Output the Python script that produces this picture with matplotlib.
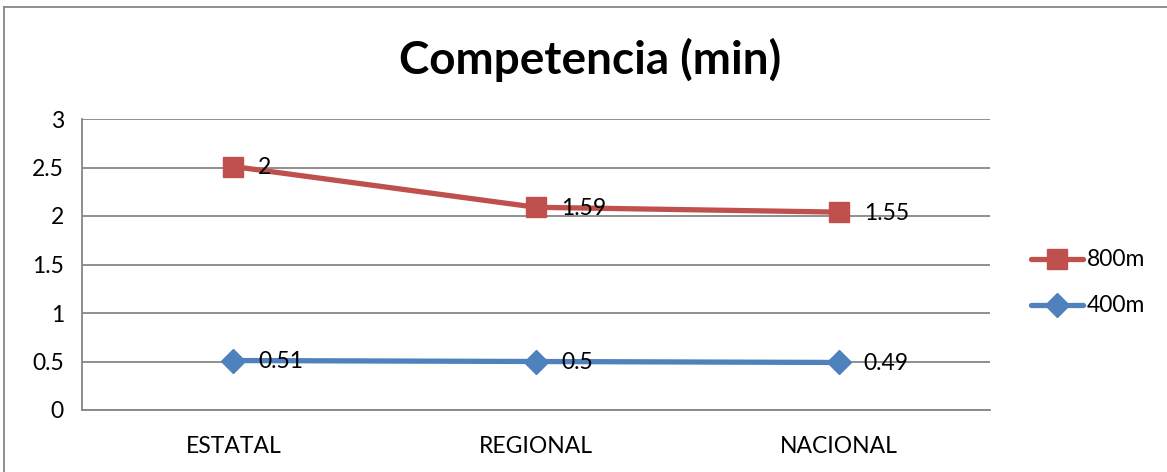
import matplotlib
matplotlib.use("Agg")
import matplotlib.pyplot as plt
from matplotlib.lines import Line2D

plt.rcParams['font.family'] = ['Lato', 'DejaVu Sans']

categories = ["ESTATAL", "REGIONAL", "NACIONAL"]
series_400 = [0.51, 0.5, 0.49]
series_800 = [2, 1.59, 1.55]
y_ticks = [0, 0.5, 1, 1.5, 2, 2.5, 3]
y_tick_labels = ["0", "0.5", "1", "1.5", "2", "2.5", "3"]

RED = "#C0504D"
BLUE = "#4F81BD"
GRID = "#868686"
FS = 16.5

W, H = 1167, 472
fig = plt.figure(figsize=(W / 100, H / 100), dpi=100)
ax = fig.add_axes([82 / W, 1 - 410 / H, (990 - 82) / W, (410 - 119) / H])

x = list(range(len(categories)))
# stacked line chart: 800m sits on top of 400m
stack_800 = [a + b for a, b in zip(series_400, series_800)]

ax.plot(x, series_400, color=BLUE, lw=3.8, marker="D", markersize=12.5,
        markerfacecolor=BLUE, markeredgecolor=BLUE, zorder=3, label="400m",
        solid_capstyle="round")
ax.plot(x, stack_800, color=RED, lw=3.8, marker="s", markersize=14,
        markerfacecolor=RED, markeredgecolor=RED, zorder=3, label="800m",
        solid_capstyle="round")

for xi, yv, v in zip(x, series_400, series_400):
    ax.annotate(f"{v:g}", (xi, yv), xytext=(18, -1), textcoords="offset points",
                ha="left", va="center", fontsize=FS, color="black", zorder=4)
for xi, yv, v in zip(x, stack_800, series_800):
    ax.annotate(f"{v:g}", (xi, yv), xytext=(18, -1), textcoords="offset points",
                ha="left", va="center", fontsize=FS, color="black", zorder=4)

ax.set_xlim(-0.5, 2.5)
ax.set_ylim(0, 3)
ax.set_yticks(y_ticks)
ax.set_yticklabels(y_tick_labels)
ax.set_xticks(x)
ax.set_xticklabels(categories)
ax.tick_params(axis="both", length=0, labelsize=FS, colors="black")
ax.tick_params(axis="x", pad=19)
ax.tick_params(axis="y", pad=13)
ax.grid(axis="y", color=GRID, lw=1.3, zorder=1)
ax.set_axisbelow(True)
for side in ("top", "right"):
    ax.spines[side].set_visible(False)
for side in ("left", "bottom"):
    ax.spines[side].set_color(GRID)
    ax.spines[side].set_linewidth(1.3)

fig.text(590 / W, 1 - 60 / H, "Competencia (min)", ha="center", va="center",
         fontsize=33, fontweight="bold")

# legend drawn by hand on the right
for ly, col, mk, ms, lab in [(259, RED, "s", 14, "800m"), (305, BLUE, "D", 12.5, "400m")]:
    yf = 1 - ly / H
    fig.add_artist(Line2D([1031 / W, 1083 / W], [yf, yf], color=col, lw=3.8,
                          solid_capstyle="round"))
    fig.add_artist(Line2D([1057 / W], [yf], color=col, marker=mk, markersize=ms,
                          markerfacecolor=col, markeredgecolor=col))
    fig.text(1087 / W, yf, lab, ha="left", va="center", fontsize=FS)

# chart frame
fig.add_artist(Line2D([4 / W, 1.0], [1 - 7 / H, 1 - 7 / H], color=GRID, lw=1.3))
fig.add_artist(Line2D([4 / W, 4 / W], [0, 1 - 7 / H], color=GRID, lw=1.3))

fig.savefig("out.png", dpi=100)
